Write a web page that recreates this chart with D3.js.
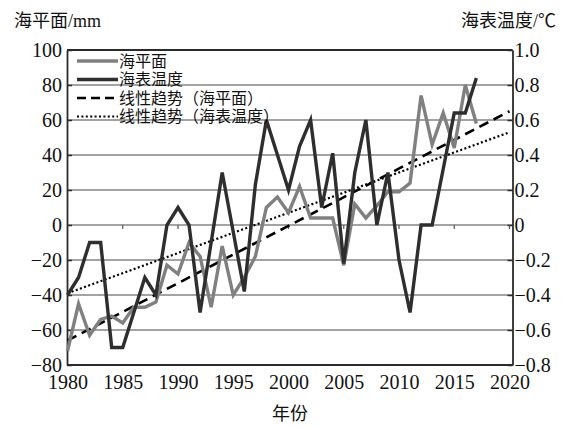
<!DOCTYPE html>
<html>
<head>
<meta charset="utf-8">
<script src="https://cdn.jsdelivr.net/npm/d3@7"></script>
<style>
  html, body { margin: 0; padding: 0; background: #fff; }
  svg { display: block; }
  .num { font-family: "Liberation Serif", "DejaVu Serif", serif; }
  .cjk { font-family: "Liberation Serif", "Noto Sans CJK SC", serif; }
</style>
</head>
<body>
<script>
// Annual sea level anomaly (mm) and sea surface temperature anomaly (°C), 1980–2017
const years = d3.range(1980, 2018);
const seaLevel = [-72, -45, -63, -54, -52, -56, -47, -47, -44, -23,
                  -28, -10, -18, -47, -12, -40, -30, -18, 10, 16,
                  7, 22, 4, 4, 4, -23, 12, 4, 11, 19,
                  19, 24, 74, 46, 64, 44, 80, 58];
const seaTemp = [-0.4, -0.3, -0.1, -0.1, -0.7, -0.7, -0.5, -0.3, -0.4, 0,
                 0.1, 0, -0.5, -0.1, 0.3, -0.04, -0.38, 0.23, 0.6, 0.4,
                 0.2, 0.45, 0.6, 0.1, 0.41, -0.22, 0.3, 0.6, 0, 0.3,
                 -0.2, -0.5, 0, 0, 0.32, 0.64, 0.64, 0.84];
// Linear trend lines, evaluated at the ends of the axis
const trendYears = [1980, 2020];
const seaTrend = [-66, 65];
const tempTrend = [-0.39, 0.53];

const xTicks = d3.range(1980, 2021, 5);
const leftTicks = d3.range(-80, 101, 20);
const rightTicks = [-0.8, -0.6, -0.4, -0.2, 0, 0.2, 0.4, 0.6, 0.8, 1.0];

const legendItems = ["海平面", "海表温度", "线性趋势（海平面）", "线性趋势（海表温度）"];

const W = 568, H = 430;
const plotL = 67, plotR = 512.5, plotT = 50, plotB = 365;

const x = d3.scaleLinear().domain([1980, 2020]).range([67.5, 509.5]);
const y = d3.scaleLinear().domain([-80, 100]).range([plotB, plotT]);
const y2 = d3.scaleLinear().domain([-0.8, 1.0]).range([plotB, plotT]);

const svg = d3.select("body").append("svg").attr("width", W).attr("height", H);

const fmtMinus = s => String(s).replace("-", "\u2212");

// horizontal gridlines
svg.append("g").selectAll("line").data(leftTicks).join("line")
  .attr("x1", plotL).attr("x2", plotR)
  .attr("y1", d => y(d)).attr("y2", d => y(d))
  .attr("stroke", "#858585").attr("stroke-width", 1.5);

// plot frame: top and bottom edges
const frame = svg.append("g").attr("stroke", "#2b2b2b").attr("stroke-width", 1.8).attr("fill", "none");
frame.append("line").attr("x1", plotL).attr("x2", plotR).attr("y1", plotT).attr("y2", plotT);
frame.append("line").attr("x1", plotL).attr("x2", plotR).attr("y1", plotB).attr("y2", plotB);

function styleAxis(g) {
  g.attr("font-family", null).attr("font-size", null);
  g.select(".domain").attr("stroke", "#2b2b2b").attr("stroke-width", 1.8);
  g.selectAll(".tick line").attr("stroke", "#2b2b2b").attr("stroke-width", 1.5);
  g.selectAll(".tick text").attr("class", "num").attr("font-size", 20).attr("fill", "#111");
}

// left axis (ticks point inward)
const leftAxis = d3.axisLeft(y).tickValues(leftTicks).tickSizeInner(-5).tickSizeOuter(0)
  .tickPadding(5).tickFormat(d => fmtMinus(d));
svg.append("g").attr("transform", `translate(${plotL},0)`).call(leftAxis).call(styleAxis);

// right axis (ticks point inward)
const rightAxis = d3.axisRight(y2).tickValues(rightTicks).tickSizeInner(-5).tickSizeOuter(0)
  .tickPadding(2).tickFormat(d => d === 0 ? "0" : fmtMinus(d3.format(".1f")(d)));
svg.append("g").attr("transform", `translate(${plotR},0)`).call(rightAxis).call(styleAxis);

// bottom axis labels; small tick marks hang from the zero line
const bottomAxis = d3.axisBottom(x).tickValues(xTicks).tickSize(0).tickPadding(10).tickFormat(d3.format("d"));
const gb = svg.append("g").attr("transform", `translate(0,${plotB})`).call(bottomAxis).call(styleAxis);
gb.select(".domain").remove();

svg.append("g").selectAll("line").data(xTicks.slice(1)).join("line")
  .attr("x1", d => x(d)).attr("x2", d => x(d))
  .attr("y1", y(0)).attr("y2", y(0) + 4)
  .attr("stroke", "#555").attr("stroke-width", 1.2);

// trend lines
const trendSeaLine = d3.line().x((d, i) => x(trendYears[i])).y(d => y(d));
const trendTempLine = d3.line().x((d, i) => x(trendYears[i])).y(d => y2(d));
svg.append("path").datum(seaTrend).attr("d", trendSeaLine)
  .attr("fill", "none").attr("stroke", "#000").attr("stroke-width", 2.6)
  .attr("stroke-dasharray", "10,6");
svg.append("path").datum(tempTrend).attr("d", trendTempLine)
  .attr("fill", "none").attr("stroke", "#000").attr("stroke-width", 2.2)
  .attr("stroke-dasharray", "2,2.4");

// data series
const seaLine = d3.line().x((d, i) => x(years[i])).y(d => y(d));
const tempLine = d3.line().x((d, i) => x(years[i])).y(d => y2(d));
svg.append("path").datum(seaLevel).attr("d", seaLine)
  .attr("fill", "none").attr("stroke", "#808080").attr("stroke-width", 3.4)
  .attr("stroke-linejoin", "miter");
svg.append("path").datum(seaTemp).attr("d", tempLine)
  .attr("fill", "none").attr("stroke", "#2e2e2e").attr("stroke-width", 3.4)
  .attr("stroke-linejoin", "miter");

// legend
const legendStyles = [
  { stroke: "#808080", width: 3.4, dash: null },
  { stroke: "#2e2e2e", width: 3.4, dash: null },
  { stroke: "#000", width: 2.6, dash: "9,5" },
  { stroke: "#000", width: 2.2, dash: "2,2.4" }
];
const legendY = d3.scalePoint().domain(legendItems).range([61, 116.5]);
const lg = svg.append("g").selectAll("g").data(legendItems).join("g")
  .attr("transform", d => `translate(0,${legendY(d)})`);
lg.append("line").attr("x1", 77).attr("x2", 118).attr("y1", 0).attr("y2", 0)
  .attr("stroke", (d, i) => legendStyles[i].stroke)
  .attr("stroke-width", (d, i) => legendStyles[i].width)
  .attr("stroke-dasharray", (d, i) => legendStyles[i].dash);
lg.append("text").attr("class", "cjk").attr("x", 119).attr("y", 0).attr("dy", "0.36em")
  .attr("font-size", 16).attr("fill", "#111").text(d => d);

// axis titles
svg.append("text").attr("class", "cjk").attr("x", 14).attr("y", 27).attr("font-size", 18)
  .attr("fill", "#111").text("海平面/mm");
svg.append("text").attr("class", "cjk").attr("x", 556).attr("y", 27).attr("font-size", 18)
  .attr("fill", "#111").attr("text-anchor", "end").text("海表温度/℃");
svg.append("text").attr("class", "cjk").attr("x", 290).attr("y", 420).attr("font-size", 18)
  .attr("fill", "#111").attr("text-anchor", "middle").text("年份");
</script>
</body>
</html>
